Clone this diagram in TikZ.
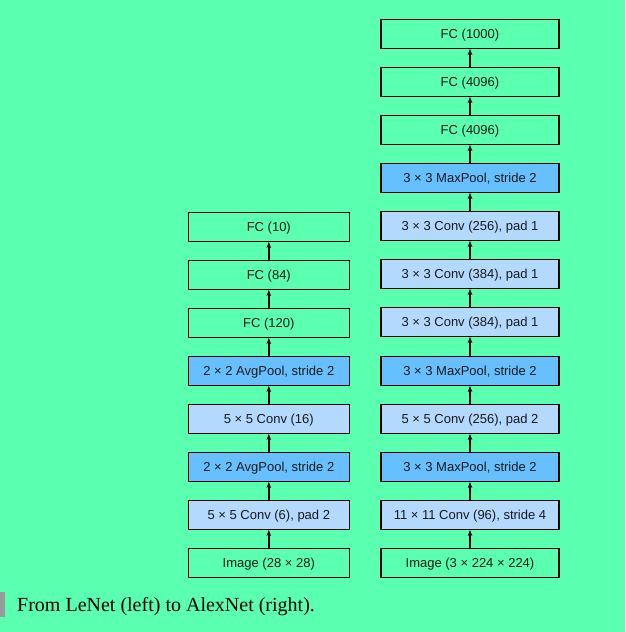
\documentclass[tikz,border=0pt]{standalone}
\usepackage{fontspec}
\setmainfont{Liberation Serif}
\newfontfamily\boxfont{Liberation Sans}
\usetikzlibrary{arrows.meta}
\definecolor{bgc}{RGB}{90,255,175}
\definecolor{convc}{RGB}{179,217,255}
\definecolor{poolc}{RGB}{102,191,255}
\definecolor{barc}{RGB}{153,153,153}
\tikzset{
  layer/.style={draw=black, line width=1.4pt, minimum height=28.5pt, inner sep=0pt, text height=9.3pt, text depth=0pt, font=\boxfont\fontsize{13pt}{15pt}\selectfont, text=black!90},
  lnet/.style={layer, minimum width=161pt},
  anet/.style={layer, minimum width=178pt},
  conv/.style={fill=convc},
  pool/.style={fill=poolc},
  flow/.style={-{Stealth[length=6pt,width=4.5pt]}, line width=1.4pt},
}
\begin{document}
\begin{tikzpicture}[x=1pt,y=-1pt]
\fill[bgc] (0,0) rectangle (625,632);
\useasboundingbox (0,0) rectangle (625,632);
% LeNet
\node[lnet] (l1) at (268.8,563) {Image (28 × 28)};
\node[lnet,conv] (l2) at (268.8,515) {5 × 5 Conv (6), pad 2};
\node[lnet,pool] (l3) at (268.8,467) {2 × 2 AvgPool, stride 2};
\node[lnet,conv] (l4) at (268.8,419) {5 × 5 Conv (16)};
\node[lnet,pool] (l5) at (268.8,371) {2 × 2 AvgPool, stride 2};
\node[lnet] (l6) at (268.8,323) {FC (120)};
\node[lnet] (l7) at (268.8,275) {FC (84)};
\node[lnet] (l8) at (268.8,227) {FC (10)};
\foreach \a/\b in {l1/l2,l2/l3,l3/l4,l4/l5,l5/l6,l6/l7,l7/l8}
  \draw[flow] (\a.north) -- (\b.south);
% AlexNet
\node[anet] (a1) at (470,563) {Image (3 × 224 × 224)};
\node[anet,conv] (a2) at (470,515) {11 × 11 Conv (96), stride 4};
\node[anet,pool] (a3) at (470,467) {3 × 3 MaxPool, stride 2};
\node[anet,conv] (a4) at (470,419) {5 × 5 Conv (256), pad 2};
\node[anet,pool] (a5) at (470,371) {3 × 3 MaxPool, stride 2};
\node[anet,conv] (a6) at (470,322) {3 × 3 Conv (384), pad 1};
\node[anet,conv] (a7) at (470,274) {3 × 3 Conv (384), pad 1};
\node[anet,conv] (a8) at (470,226) {3 × 3 Conv (256), pad 1};
\node[anet,pool] (a9) at (470,178) {3 × 3 MaxPool, stride 2};
\node[anet] (a10) at (470,130) {FC (4096)};
\node[anet] (a11) at (470,82) {FC (4096)};
\node[anet] (a12) at (470,34) {FC (1000)};
\foreach \a/\b in {a1/a2,a2/a3,a3/a4,a4/a5,a5/a6,a6/a7,a7/a8,a8/a9,a9/a10,a10/a11,a11/a12}
  \draw[flow] (\a.north) -- (\b.south);
% caption
\fill[barc] (0,592) rectangle (5,617);
\node[anchor=base west, inner sep=0pt, font=\fontsize{20pt}{24pt}\selectfont] (cap) at (17,611) {From LeNet (left) to AlexNet (right).};
\end{tikzpicture}
\end{document}
